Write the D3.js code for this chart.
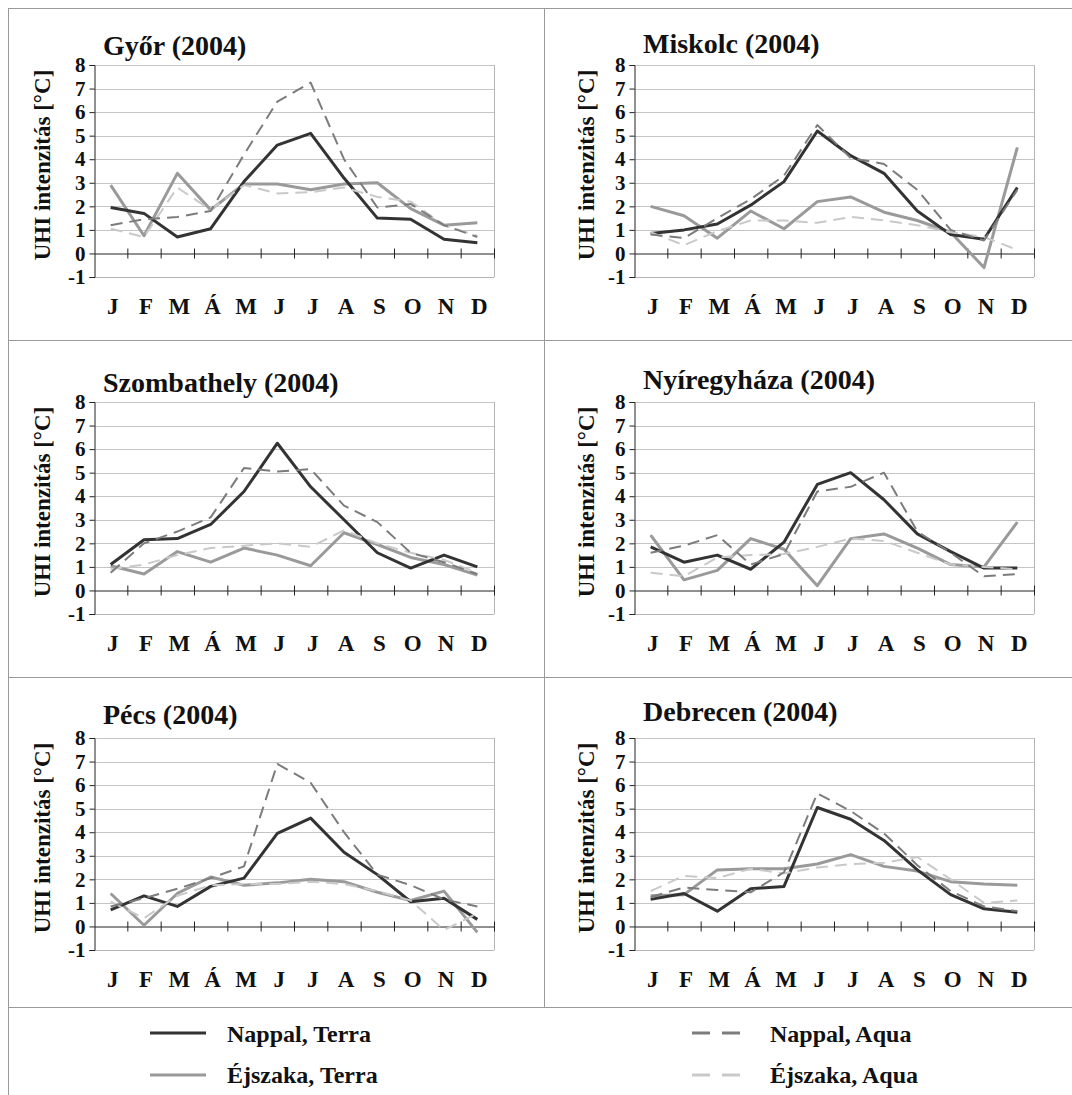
<!DOCTYPE html>
<html>
<head>
<meta charset="utf-8">
<script src="https://cdn.jsdelivr.net/npm/d3@7"></script>
<style>
  body { margin: 0; background: #fff; }
</style>
</head>
<body>
<div id="chart"></div>
<script>
// month labels (Hungarian initials) and panel titles
const months = ["J", "F", "M", "Á", "M", "J", "J", "A", "S", "O", "N", "D"];
const cities = ["Győr (2004)", "Miskolc (2004)", "Szombathely (2004)", "Nyíregyháza (2004)", "Pécs (2004)", "Debrecen (2004)"];
const yTicks = [-1, 0, 1, 2, 3, 4, 5, 6, 7, 8];
const seriesNames = ["Nappal, Terra", "Éjszaka, Terra", "Nappal, Aqua", "Éjszaka, Aqua"];

// values per city, in the order of `cities`
const nappalTerra = [
  [1.95, 1.7, 0.7, 1.05, 3.05, 4.6, 5.1, 3.2, 1.5, 1.45, 0.6, 0.45],
  [0.85, 1.0, 1.25, 2.05, 3.05, 5.2, 4.15, 3.4, 1.8, 0.8, 0.6, 2.8],
  [1.1, 2.15, 2.2, 2.8, 4.2, 6.25, 4.4, 3.0, 1.6, 0.95, 1.5, 1.0],
  [1.85, 1.2, 1.5, 0.9, 2.05, 4.5, 5.0, 3.85, 2.4, 1.65, 0.95, 0.95],
  [0.7, 1.3, 0.85, 1.7, 2.05, 3.95, 4.6, 3.15, 2.2, 1.05, 1.2, 0.3],
  [1.15, 1.4, 0.65, 1.6, 1.7, 5.05, 4.55, 3.65, 2.4, 1.35, 0.75, 0.6]
];
const ejszakaTerra = [
  [2.9, 0.75, 3.4, 1.85, 2.95, 2.95, 2.7, 2.95, 3.0, 1.9, 1.2, 1.3],
  [2.0, 1.6, 0.65, 1.8, 1.05, 2.2, 2.4, 1.75, 1.4, 0.9, -0.6, 4.5],
  [1.05, 0.7, 1.65, 1.2, 1.8, 1.5, 1.05, 2.45, 1.95, 1.4, 1.1, 0.65],
  [2.35, 0.45, 0.85, 2.2, 1.75, 0.2, 2.2, 2.4, 1.8, 1.1, 1.0, 2.9],
  [1.4, 0.05, 1.4, 2.1, 1.75, 1.85, 2.0, 1.9, 1.45, 1.1, 1.5, -0.25],
  [1.3, 1.35, 2.4, 2.45, 2.45, 2.65, 3.05, 2.55, 2.35, 1.9, 1.8, 1.75]
];
const nappalAqua = [
  [1.2, 1.45, 1.55, 1.8, 4.2, 6.45, 7.25, 4.0, 1.95, 2.1, 1.2, 0.7],
  [0.8, 0.65, 1.5, 2.3, 3.3, 5.45, 4.05, 3.8, 2.7, 1.0, 0.55, 2.7],
  [0.75, 2.0, 2.5, 3.1, 5.2, 5.05, 5.15, 3.6, 2.9, 1.6, 1.2, 0.7],
  [1.6, 1.9, 2.35, 1.1, 1.55, 4.2, 4.4, 5.0, 2.5, 1.6, 0.6, 0.7],
  [0.85, 1.2, 1.6, 2.05, 2.55, 6.9, 6.1, 4.0, 2.2, 1.75, 1.15, 0.85],
  [1.25, 1.65, 1.55, 1.45, 2.3, 5.65, 4.9, 3.95, 2.6, 1.5, 0.85, 0.65]
];
const ejszakaAqua = [
  [1.05, 0.7, 2.8, 1.85, 2.9, 2.55, 2.6, 2.8, 2.4, 2.2, 1.2, 0.75],
  [0.9, 0.35, 0.95, 1.4, 1.4, 1.3, 1.55, 1.4, 1.2, 0.9, 0.7, 0.15],
  [0.9, 1.1, 1.5, 1.8, 1.9, 2.0, 1.85, 2.55, 2.0, 1.6, 1.3, 0.75],
  [0.75, 0.6, 1.4, 1.5, 1.55, 1.85, 2.2, 2.1, 1.6, 1.1, 1.0, 0.9],
  [1.05, 0.35, 1.3, 1.75, 1.8, 1.8, 1.9, 1.8, 1.5, 1.1, -0.15, 0.55],
  [1.5, 2.15, 2.05, 2.45, 2.25, 2.5, 2.65, 2.7, 2.95, 2.0, 1.0, 1.1]
];

const seriesData = [nappalTerra, ejszakaTerra, nappalAqua, ejszakaAqua];
const seriesStyle = [
  { color: "#333333", width: 3, dash: null },
  { color: "#9a9a9a", width: 3, dash: null },
  { color: "#7c7c7c", width: 2, dash: "12,7" },
  { color: "#c9c9c9", width: 2, dash: "12,7" }
];
const drawOrder = [1, 0, 3, 2];

const FONT = "'Liberation Serif', 'Times New Roman', serif";
const W = 1072, H = 1095;
const plotLeft = [94, 634];
const plotTop = [65, 402, 738];
const plotW = 400, plotH = 212;
const titleGap = [10, 12, 10, 13, 14, 17];
const labelX = [50, 594];

const svg = d3.select("#chart").append("svg")
  .attr("width", W).attr("height", H);

function serif(sel, size) {
  return sel.style("font-family", FONT).style("font-weight", "bold")
    .style("font-size", size + "px").style("fill", "#111");
}

// frame lines
const frame = svg.append("g").attr("stroke", "#9a9a9a").attr("stroke-width", 1);
frame.append("line").attr("x1", 8).attr("x2", W).attr("y1", 8.5).attr("y2", 8.5);
frame.append("line").attr("x1", 8.5).attr("x2", 8.5).attr("y1", 8).attr("y2", H);
frame.append("line").attr("x1", 544.5).attr("x2", 544.5).attr("y1", 8).attr("y2", 1007);
[340.5, 677.5, 1007.5].forEach(y => {
  frame.append("line").attr("x1", 8).attr("x2", W).attr("y1", y).attr("y2", y);
});

cities.forEach((city, i) => {
  const col = i % 2, row = Math.floor(i / 2);
  const left = plotLeft[col], top = plotTop[row];

  const x = d3.scaleBand().domain(d3.range(12)).range([left, left + plotW]);
  const xb = d3.scaleLinear().domain([0, 12]).range([left, left + plotW]);
  const y = d3.scaleLinear().domain([-1, 8]).range([top + plotH, top]);

  const g = svg.append("g");

  // gridlines + plot border
  g.append("g").selectAll("line")
    .data(d3.range(1, 9))
    .join("line")
    .attr("x1", left).attr("x2", left + plotW)
    .attr("y1", d => Math.round(y(d)) + 0.5).attr("y2", d => Math.round(y(d)) + 0.5)
    .attr("stroke", "#c4c4c4");
  g.append("line")
    .attr("x1", left).attr("x2", left + plotW)
    .attr("y1", Math.round(y(-1)) + 0.5).attr("y2", Math.round(y(-1)) + 0.5)
    .attr("stroke", "#b4b4b4");
  g.append("line")
    .attr("x1", left + plotW + 0.5).attr("x2", left + plotW + 0.5)
    .attr("y1", y(8)).attr("y2", y(-1))
    .attr("stroke", "#b4b4b4");

  // y axis
  const yAxis = g.append("g")
    .attr("transform", `translate(${left + 0.5},0)`)
    .call(d3.axisLeft(y).tickValues(yTicks).tickFormat(d => String(d)).tickSize(5).tickPadding(4));
  yAxis.select(".domain").attr("stroke", "#222");
  yAxis.selectAll(".tick line").attr("stroke", "#222");
  serif(yAxis.selectAll(".tick text"), 21);

  // zero line with crossing ticks at month boundaries
  const zAxis = g.append("g")
    .attr("transform", `translate(0,${Math.round(y(0)) + 0.5})`)
    .call(d3.axisBottom(xb).tickValues(d3.range(1, 13)).tickSize(5).tickFormat("").tickSizeOuter(0));
  zAxis.select(".domain").attr("stroke", "#222");
  zAxis.selectAll(".tick line").attr("y1", -5).attr("y2", 5).attr("stroke", "#222");

  // month labels
  const mAxis = g.append("g")
    .attr("transform", `translate(2,${top + plotH + 37})`)
    .call(d3.axisBottom(x).tickFormat(d => months[d]).tickSize(0).tickPadding(0));
  mAxis.select(".domain").remove();
  serif(mAxis.selectAll(".tick text").attr("dy", 0), 23);

  // title
  serif(g.append("text")
    .attr("x", left + 9).attr("y", top - titleGap[i])
    .text(city), 28);

  // y axis label
  const ly = top + plotH / 2 - 6;
  serif(g.append("text")
    .attr("transform", `translate(${labelX[col]},${ly}) rotate(-90)`)
    .attr("text-anchor", "middle")
    .text("UHI intenzitás [°C]"), 23);

  // series lines
  const line = d3.line()
    .x((d, k) => x(k) + x.bandwidth() / 2)
    .y(d => y(d));
  drawOrder.forEach(s => {
    const st = seriesStyle[s];
    g.append("path")
      .datum(seriesData[s][i])
      .attr("d", line)
      .attr("fill", "none")
      .attr("stroke", st.color)
      .attr("stroke-width", st.width)
      .attr("stroke-linejoin", "round")
      .attr("stroke-dasharray", st.dash);
  });
});

// legend
const legendPos = [
  { x1: 150, x2: 206, tx: 227, ly: 1033, ty: 1042 },
  { x1: 150, x2: 206, tx: 227, ly: 1075, ty: 1083 },
  { x1: 692, x2: 740, tx: 770, ly: 1033, ty: 1042 },
  { x1: 692, x2: 740, tx: 770, ly: 1075, ty: 1083 }
];
const legend = svg.append("g");
seriesNames.forEach((name, s) => {
  const p = legendPos[s], st = seriesStyle[s];
  legend.append("line")
    .attr("x1", p.x1).attr("x2", p.x2).attr("y1", p.ly).attr("y2", p.ly)
    .attr("stroke", st.color).attr("stroke-width", 3)
    .attr("stroke-dasharray", st.dash ? "18,12" : null);
  serif(legend.append("text")
    .attr("x", p.tx).attr("y", p.ty)
    .text(name), 24);
});
</script>
</body>
</html>
